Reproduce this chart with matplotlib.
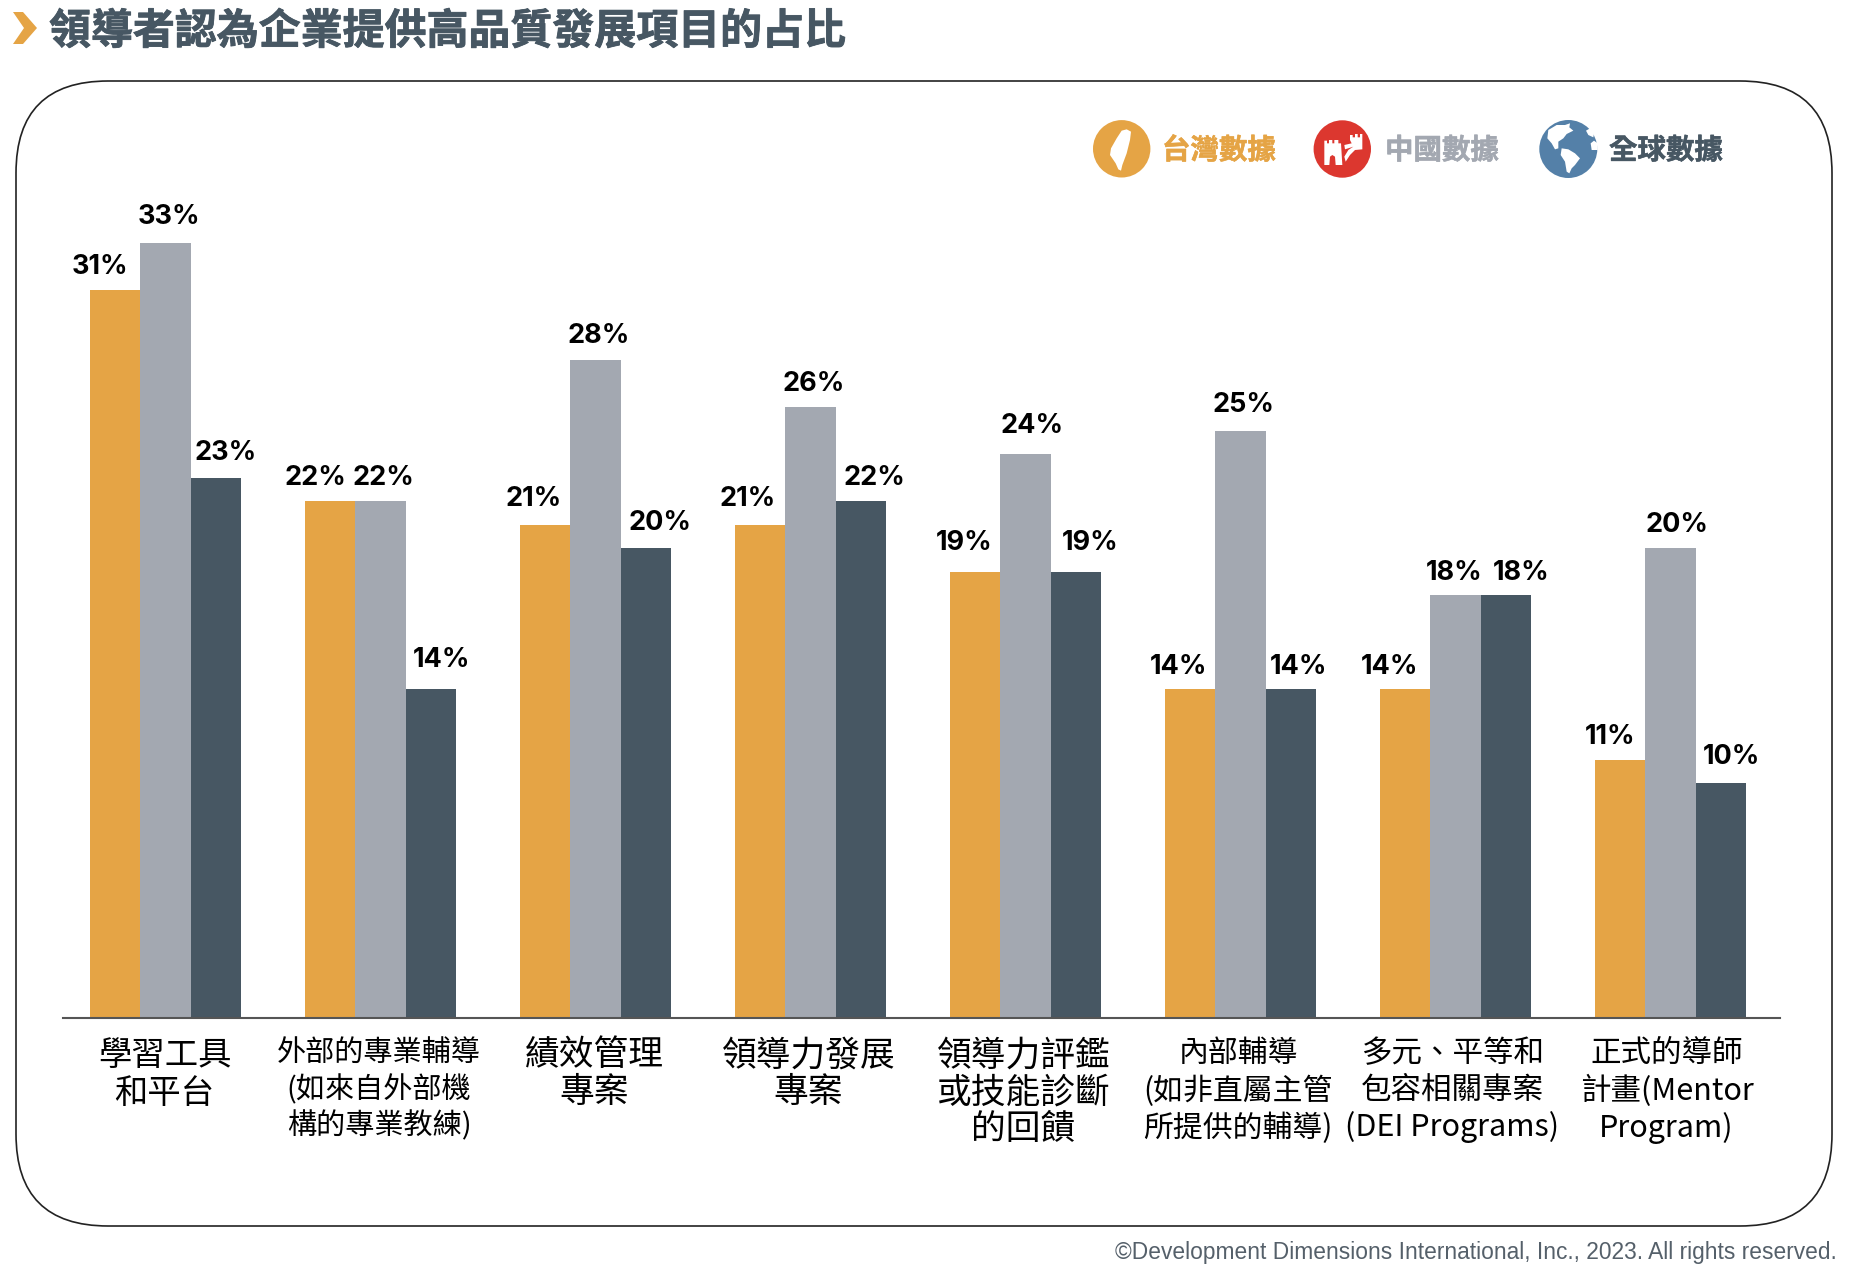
import matplotlib
matplotlib.use('Agg')
import matplotlib.pyplot as plt
import matplotlib.patheffects as pe
from matplotlib.patches import FancyBboxPatch, Polygon, Circle

W, H = 1850, 1270

CJK = ['Noto Sans CJK TC', 'DejaVu Sans']

categories = [
    '學習工具\n和平台',
    '外部的專業輔導\n(如來自外部機\n構的專業教練)',
    '績效管理\n專案',
    '領導力發展\n專案',
    '領導力評鑑\n或技能診斷\n的回饋',
    '內部輔導\n(如非直屬主管\n所提供的輔導)',
    '多元、平等和\n包容相關專案\n(DEI Programs)',
    '正式的導師\n計畫(Mentor\nProgram)',
]
taiwan = [31, 22, 21, 21, 19, 14, 14, 11]
china = [33, 22, 28, 26, 24, 25, 18, 20]
world = [23, 14, 20, 22, 19, 14, 18, 10]

ORANGE = '#E5A445'
GRAY = '#A3A8B1'
DARK = '#475763'

# label offsets in pixels from the top centre of each bar
dx_t = [-15, -15, -12, -13, -11, -12, -16, -10]
dx_c = [3, 3, 3, 3, 6, 3, -1, 6]
dx_w = [10, 11, 14, 13, 14, 8, 15, 11]
dy_t = [23, 23, 25, 25, 28, 22, 22, 22]
dy_c = [25, 23, 24, 23, 28, 25, 22, 23]
dy_w = [24, 29, 25, 23, 28, 22, 22, 26]

# tick label sizes, the reference tracks some labels out wider than others
label_sizes = [24, 21, 25, 25, 25, 21.5, 22, 22]
label_dx = [-1, -1.5, -1.5, -2, -2, -2.5, -3.5, -4]
LINE_PITCH = 38.8


def icon(points, x0, y0):
    return Polygon([(x0 + px / 3, y0 + py / 3) for px, py in points], fc='white', ec='none')


fig = plt.figure(figsize=(W / 100, H / 100), dpi=100)

# background layer in pixel coordinates
bg = fig.add_axes([0, 0, 1, 1])
bg.set_xlim(0, W)
bg.set_ylim(H, 0)
bg.axis('off')

frame = FancyBboxPatch((16 + 92, 81 + 92), 1832 - 16 - 184, 1226 - 81 - 184,
                       boxstyle='round,pad=92,rounding_size=92',
                       fc='white', ec='#222222', lw=1.2)
bg.add_patch(frame)

# title
bg.add_patch(Polygon([(13, 12), (23, 12), (37, 28), (23, 44), (13, 44), (24, 28)], fc=ORANGE, ec='none'))
title = bg.text(49, 32, '領導者認為企業提供高品質發展項目的占比', family=CJK, fontsize=30.2,
                fontweight='bold', color=DARK, va='center', ha='left')
title.set_path_effects([pe.withStroke(linewidth=0.6, foreground=DARK)])

# legend icons
bg.add_patch(Circle((1121.7, 148.8), 28.7, fc=ORANGE, ec='none'))
bg.add_patch(icon([(125, 58), (138, 65), (135, 90), (125, 130), (112, 165), (108, 182), (100, 178), (92, 160),
                   (75, 135), (78, 115), (95, 85), (110, 62)], 1085, 110))

bg.add_patch(Circle((1342.3, 149), 28.7, fc='#DC372F', ec='none'))
bg.add_patch(icon([(58, 92), (66, 92), (66, 100), (72, 100), (72, 90), (82, 90), (82, 100), (88, 100), (88, 90),
                   (100, 90), (100, 100), (108, 100), (112, 165), (92, 165), (90, 140), (82, 135), (75, 140),
                   (73, 165), (58, 165)], 1305, 110))
bg.add_patch(icon([(135, 75), (143, 75), (143, 82), (150, 82), (150, 72), (158, 72), (158, 82), (165, 82),
                   (165, 72), (172, 72), (172, 118), (150, 120), (135, 135), (122, 155), (118, 140), (130, 120),
                   (145, 110), (120, 118), (118, 105), (140, 100), (135, 90)], 1305, 110))

bg.add_patch(Circle((1568.3, 149), 29, fc='#5480A8', ec='none'))
bg.add_patch(icon([(55, 60), (80, 45), (105, 45), (120, 40), (118, 52), (130, 62), (110, 72), (100, 85), (85, 95),
                   (85, 115), (75, 118), (65, 100), (52, 85)], 1530, 110))
bg.add_patch(icon([(95, 115), (115, 118), (135, 130), (150, 145), (135, 165), (125, 175), (118, 190), (110, 185),
                   (105, 155), (92, 135)], 1530, 110))
bg.add_patch(icon([(168, 62), (180, 55), (192, 70), (190, 82), (175, 75)], 1530, 110))
bg.add_patch(icon([(182, 100), (192, 92), (203, 100), (203, 120), (185, 120)], 1530, 110))

# legend text
legend_items = ['台灣數據', '中國數據', '全球數據']
legend_x = [1162, 1385, 1609]
legend_c = [ORANGE, GRAY, DARK]
for name, lx, lc in zip(legend_items, legend_x, legend_c):
    t = bg.text(lx, 151, name, family=CJK, fontsize=20.5, fontweight='bold', color=lc, va='center', ha='left')
    t.set_path_effects([pe.withStroke(linewidth=0.4, foreground=lc)])

bg.text(1836.5, 1253, '©Development Dimensions International, Inc., 2023. All rights reserved.',
        family='Liberation Sans', fontsize=16.35, color='#55606A', va='center', ha='right')

# bars
PX_PER_PCT = 23.5
GROUP_STEP = 215.0
X0 = 63
X1 = 1780
Y0 = 1018
Y_TOP = 100
CX0 = 90 + 75.6
ax = fig.add_axes([X0 / W, (H - Y0) / H, (X1 - X0) / W, (Y0 - Y_TOP) / H])
ax.patch.set_alpha(0)
ax.set_xlim((X0 - CX0) / GROUP_STEP, (X1 - CX0) / GROUP_STEP)
ax.set_ylim(0, (Y0 - Y_TOP) / PX_PER_PCT)
bw = 50.4 / GROUP_STEP

pos = list(range(len(categories)))
series = [(taiwan, ORANGE, -bw, dx_t, dy_t), (china, GRAY, 0, dx_c, dy_c), (world, DARK, bw, dx_w, dy_w)]
for vals, col, off, dxs, dys in series:
    xs = [p + off for p in pos]
    ax.bar(xs, vals, width=bw, color=col, linewidth=0)
    for x, v, dx, dy in zip(xs, vals, dxs, dys):
        ax.annotate(f'{v}%', (x, v), xytext=(dx, dy), textcoords='offset pixels', ha='center', va='center',
                    family='Inter', fontweight='bold', fontsize=19.5, color='black')

for s in ['top', 'left', 'right']:
    ax.spines[s].set_visible(False)
ax.spines['bottom'].set_color('#555555')
ax.spines['bottom'].set_linewidth(1.5)
ax.set_yticks([])
ax.set_xticks([p + d / GROUP_STEP for p, d in zip(pos, label_dx)])
ax.set_xticklabels(categories, family=CJK, color='black')
for lab, size in zip(ax.get_xticklabels(), label_sizes):
    lab.set_fontsize(size)
    lab.set_linespacing(LINE_PITCH / (1.046 * size * 100 / 72))
ax.tick_params(axis='x', length=0, pad=14.6)

fig.savefig('out.png', dpi=100)
